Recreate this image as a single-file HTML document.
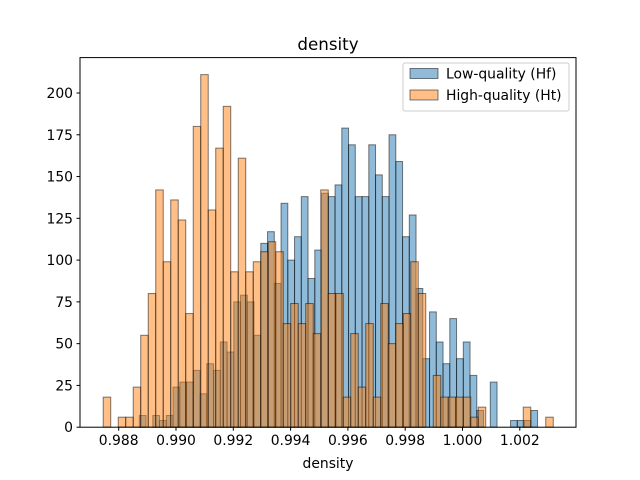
<!DOCTYPE html>
<html><head><meta charset="utf-8"><style>
body{margin:0;background:#fff}
svg{display:block;font-family:"DejaVu Sans","Liberation Sans",sans-serif}
</style></head><body>
<svg id="chart" width="640" height="480" viewBox="0 0 640 480" xmlns="http://www.w3.org/2000/svg">
<rect x="0" y="0" width="640" height="480" fill="#fff"/>
<g id="bars"></g>
<g id="axes"></g>
<text x="328" y="50" font-size="16.7" text-anchor="middle">density</text>
<text x="328" y="468" font-size="13.9" text-anchor="middle">density</text>
<g>
<rect x="403" y="63" width="166" height="48" rx="2" fill="#fff" fill-opacity="0.8" stroke="#ccc"/>
<rect x="410" y="68.5" width="28" height="10" fill="#1f77b4" fill-opacity="0.5" stroke="#000" stroke-opacity="0.5"/>
<text x="446" y="78.5" font-size="13.9">Low-quality (Hf)</text>
<rect x="410" y="90" width="28" height="10" fill="#ff7f0e" fill-opacity="0.5" stroke="#000" stroke-opacity="0.5"/>
<text x="446" y="100" font-size="13.9">High-quality (Ht)</text>
</g>
</svg>
<script>
const lowCounts = [7,0,7,4,7,24,27,27,34,20,38,34,51,45,75,79,75,55,110,117,86,134,100,114,138,89,106,140,138,145,179,169,138,138,169,151,138,175,159,114,127,83,41,69,51,38,65,41,51,31,10,0,27,0,0,4,4,4,10];
const highCounts = [18,0,6,6,24,55,80,142,99,136,124,68,180,211,130,167,192,93,161,93,99,105,111,105,62,74,62,74,56,142,80,80,18,56,24,62,18,74,50,62,68,99,80,0,31,18,18,18,18,6,12,0,0,0,0,0,12,0,0,6];
const lowStart = 0.988719, lowWidth = 0.0002356;
const highStart = 0.98746, highWidth = 0.0002618;
const xTicks = [0.988,0.990,0.992,0.994,0.996,0.998,1.000,1.002];
const yTicks = [0,25,50,75,100,125,150,175,200];

const NS="http://www.w3.org/2000/svg";
const L=80,R=576,T=57.6,B=427.2;
function xs(v){return 118.7+(v-0.988)*28650;}
function ys(v){return B-v*1.671;}
const bars=document.getElementById('bars'), axes=document.getElementById('axes');
function mk(tag,attrs,parent){const e=document.createElementNS(NS,tag);for(const k in attrs)e.setAttribute(k,attrs[k]);parent.appendChild(e);return e;}
function drawSeries(counts,start,width,fill,name){
  counts.forEach((c,i)=>{
    if(c<=0)return;
    const x0=xs(start+i*width),x1=xs(start+(i+1)*width);
    const r=mk('rect',{x:x0,y:ys(c),width:x1-x0,height:B-ys(c),fill:fill,'fill-opacity':0.5,stroke:'#000','stroke-opacity':0.5,'stroke-width':1},bars);
    
    
  });
}
drawSeries(lowCounts,lowStart,lowWidth,'#1f77b4','low-quality');
drawSeries(highCounts,highStart,highWidth,'#ff7f0e','high-quality');
const frame=mk('rect',{x:L,y:T,width:R-L,height:B-T,fill:'none',stroke:'#000','stroke-width':1},axes);


xTicks.forEach(v=>{
  const x=xs(v);
  mk('line',{x1:x,x2:x,y1:B,y2:B+3.5,stroke:'#000'},axes);
  const t=mk('text',{x:x,y:B+18,'font-size':13.9,'text-anchor':'middle'},axes);
  t.textContent=v.toFixed(3);
  
  
});
yTicks.forEach(v=>{
  const y=ys(v);
  mk('line',{x1:L-3.5,x2:L,y1:y,y2:y,stroke:'#000'},axes);
  const t=mk('text',{x:L-7,y:y+5,'font-size':13.9,'text-anchor':'end'},axes);
  t.textContent=v;
  
  
});
</script>
</body></html>
